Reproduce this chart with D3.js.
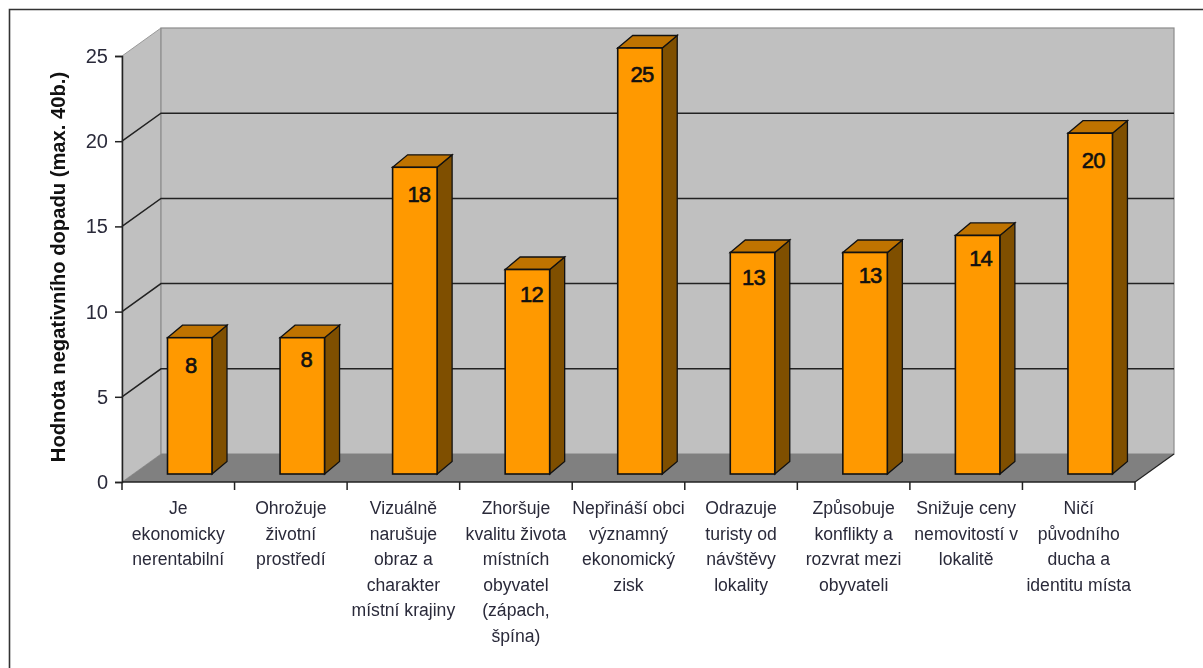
<!DOCTYPE html>
<html><head><meta charset="utf-8">
<script src="https://cdn.jsdelivr.net/npm/d3@7"></script>
<style>html,body{margin:0;padding:0;background:#fff}svg{display:block;filter:blur(0.35px)}text{font-family:"Liberation Sans",Arial,sans-serif}</style>
</head><body><svg id="c" width="1203" height="668"></svg>
<script>
const categories = [
  ["Je","ekonomicky","nerentabilní"],
  ["Ohrožuje","životní","prostředí"],
  ["Vizuálně","narušuje","obraz a","charakter","místní krajiny"],
  ["Zhoršuje","kvalitu života","místních","obyvatel","(zápach,","špína)"],
  ["Nepřináší obci","významný","ekonomický","zisk"],
  ["Odrazuje","turisty od","návštěvy","lokality"],
  ["Způsobuje","konflikty a","rozvrat mezi","obyvateli"],
  ["Snižuje ceny","nemovitostí v","lokalitě"],
  ["Ničí","původního","ducha a","identitu místa"]
];
const values = [8,8,18,12,25,13,13,14,20];
const yTicks = [0,5,10,15,20,25];
const yTitle = "Hodnota negativního dopadu (max. 40b.)";

const svg = d3.select("#c");
const x = d3.scaleBand().domain(d3.range(values.length)).range([122,1135]).paddingInner(0).paddingOuter(0);
const y = d3.scaleLinear().domain([0,25]).range([482,56]);
const wallDx = 39, wallDy = 28, barDx = 15, barDy = 12.5, barInset = 45.5, barW = 44.5, barLift = 8;
const labelShiftX = [0,3,3,3,1,0,4,2,2], labelShiftY = [1,-5,1,-2,0,-1,-3,-3,1];
const line = p => "M" + p.map(d=>d.join(",")).join("L") + "Z";
const x0 = x.range()[0], x1 = x.range()[1];

// outer frame
svg.append("path").attr("d",`M9.5,668V9.5H1203`).attr("fill","none").attr("stroke","#333").attr("stroke-width",1.6);

// walls and floor
svg.append("path").attr("d",line([[x0,y(0)],[x0+wallDx,y(0)-wallDy],[x0+wallDx,y(25)-wallDy],[x0,y(25)]]))
  .attr("fill","#c0c0c0").attr("stroke","#999").attr("stroke-width",1);
svg.append("rect").attr("x",x0+wallDx).attr("y",y(25)-wallDy).attr("width",x1-x0).attr("height",y(0)-y(25))
  .attr("fill","#c0c0c0").attr("stroke","#8c8c8c").attr("stroke-width",1.2);
svg.append("path").attr("d",line([[x0,y(0)],[x0+wallDx,y(0)-wallDy],[x1+wallDx,y(0)-wallDy],[x1,y(0)]]))
  .attr("fill","#808080");

// gridlines
svg.append("g").selectAll("path").data(yTicks.filter(t=>t>0&&t<25)).join("path")
  .attr("d",t=>`M${x0},${y(t)}L${x0+wallDx},${y(t)-wallDy}H${x1+wallDx}`)
  .attr("fill","none").attr("stroke","#222").attr("stroke-width",1.5);
svg.append("path").attr("d",`M${x1},${y(0)}L${x1+wallDx},${y(0)-wallDy}`).attr("stroke","#222").attr("stroke-width",1.2);

// bars
const bars = svg.append("g").selectAll("g").data(values).join("g");
const bx = (d,i)=>x(i)+barInset, by = d=>y(d)-barLift, bb = y(0)-barLift;
bars.append("path").attr("d",(d,i)=>line([[bx(d,i)+barW,by(d)],[bx(d,i)+barW+barDx,by(d)-barDy],[bx(d,i)+barW+barDx,bb-barDy],[bx(d,i)+barW,bb]]))
  .attr("fill","#7f4f00").attr("stroke","#111").attr("stroke-width",1.3);
bars.append("path").attr("d",(d,i)=>line([[bx(d,i),by(d)],[bx(d,i)+barDx,by(d)-barDy],[bx(d,i)+barW+barDx,by(d)-barDy],[bx(d,i)+barW,by(d)]]))
  .attr("fill","#bf7300").attr("stroke","#111").attr("stroke-width",1.3);
bars.append("rect").attr("x",bx).attr("y",by).attr("width",barW).attr("height",d=>bb-by(d))
  .attr("fill","#ff9900").attr("stroke","#111").attr("stroke-width",1.6);
bars.append("text").attr("x",(d,i)=>bx(d,i)+barW/2+1+labelShiftX[i]).attr("y",(d,i)=>by(d)+34+labelShiftY[i])
  .attr("text-anchor","middle").attr("font-size",22).attr("letter-spacing",-0.8)
  .attr("fill","#111").attr("stroke","#111").attr("stroke-width",0.6).text(d=>d);

// axes
const yAxis = d3.axisLeft(y).tickValues(yTicks).tickSize(7).tickPadding(7);
const gy = svg.append("g").attr("transform",`translate(${x0},0)`).call(yAxis);
gy.select(".domain").attr("stroke","#222").attr("stroke-width",1.5);
gy.selectAll(".tick line").attr("stroke","#222").attr("stroke-width",1.5);
gy.selectAll(".tick text").attr("font-size",20).attr("fill","#2a2a3a").attr("font-family","Liberation Sans");

const edges = d3.range(values.length+1).map(i=>x0+i*x.step());
svg.append("path").attr("d",`M${x0},${y(0)}H${x1}`).attr("stroke","#222").attr("stroke-width",1.5);
svg.append("g").selectAll("line").data(edges).join("line")
  .attr("x1",d=>d).attr("x2",d=>d).attr("y1",y(0)).attr("y2",y(0)+8).attr("stroke","#222").attr("stroke-width",1.5);

// category labels
svg.append("g").selectAll("text").data(categories).join("text")
  .attr("text-anchor","middle").attr("font-size",17.6).attr("fill","#2a2a3a")
  .attr("transform",(d,i)=>`translate(${x(i)+x.bandwidth()/2},514)`)
  .selectAll("tspan").data(d=>d).join("tspan").attr("x",0).attr("y",(d,i)=>i*25.6).text(d=>d);

// axis title
svg.append("text").attr("transform","translate(65,267) rotate(-90)").attr("text-anchor","middle")
  .attr("font-size",20.2).attr("font-weight",700).attr("fill","#111").text(yTitle);
</script></body></html>
